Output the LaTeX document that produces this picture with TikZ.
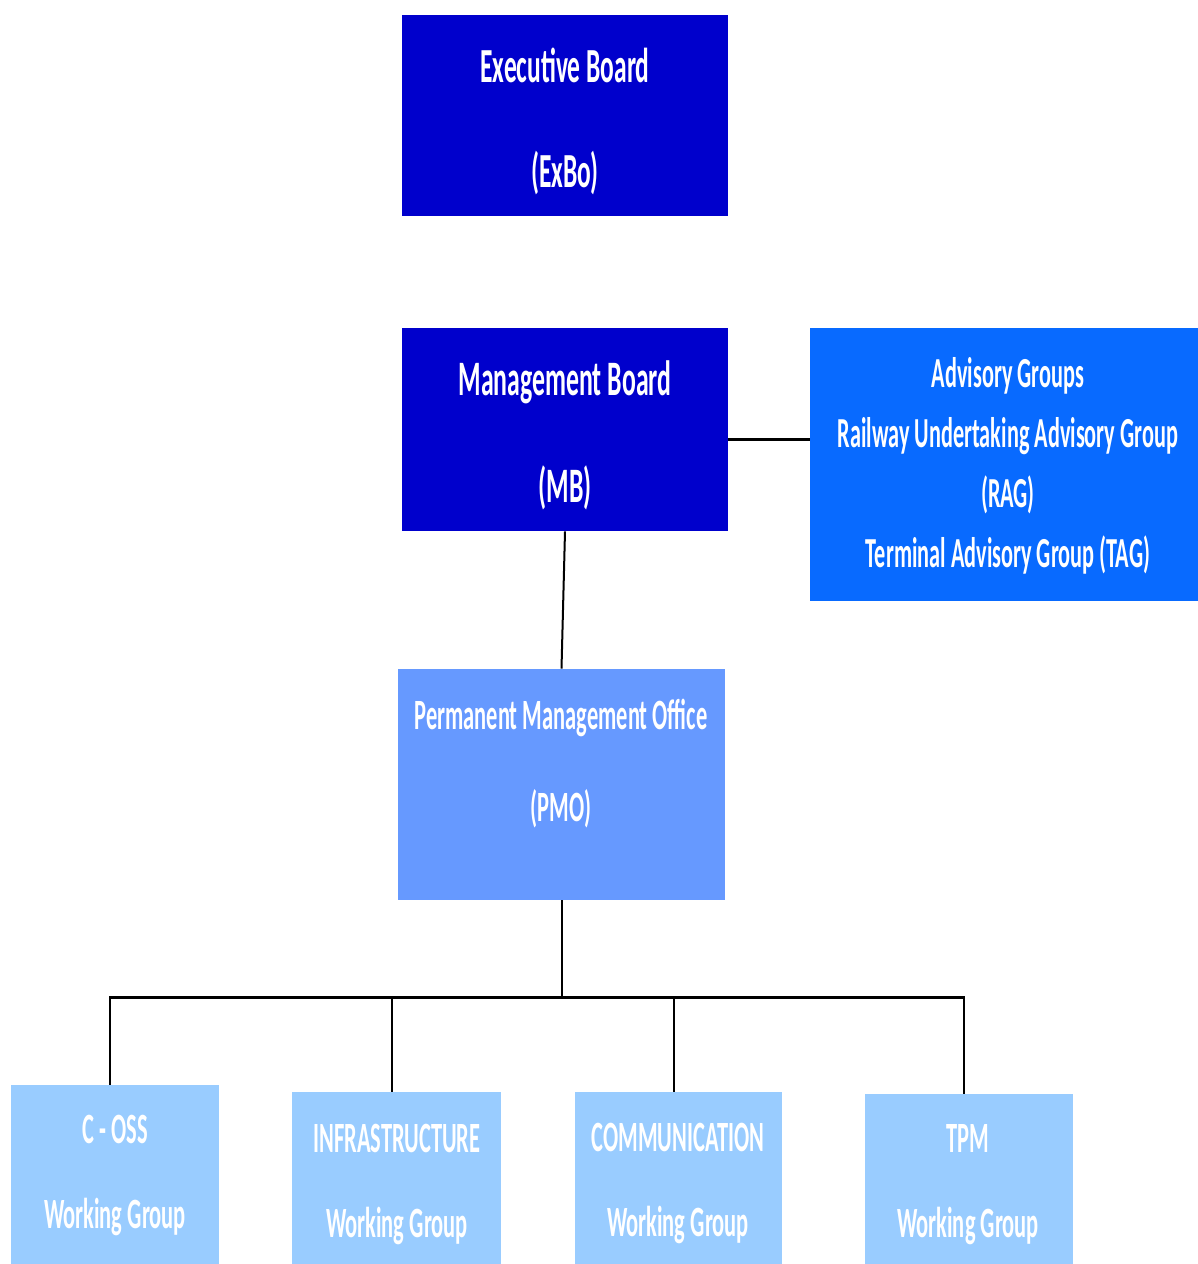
\documentclass[tikz,border=0pt]{standalone}
\usepackage{fontspec}
\newfontfamily\lab{Carlito}[FakeStretch=0.52]
\definecolor{dark}{RGB}{0,0,204}
\definecolor{mid}{RGB}{8,106,255}
\definecolor{pmoc}{RGB}{102,153,255}
\definecolor{light}{RGB}{153,204,255}
\tikzset{
  box/.style={fill=#1, draw=none, inner sep=0pt, rectangle},
  lbl/.style={text=white, align=center, inner sep=0pt},
  conn/.style={draw=black, line width=1pt},
  busline/.style={draw=black, line width=1.5pt}
}
\newcommand{\fs}[2]{\lab\bfseries\fontsize{#1}{#2}\selectfont}
\begin{document}
\begin{tikzpicture}[x=0.5pt,y=-0.5pt]
\useasboundingbox (0,0) rectangle (1198,1264);
% boxes
\node[box=dark, minimum width=163pt, minimum height=100.5pt] (exbo) at (565,115.5) {};
\node[box=dark, minimum width=163pt, minimum height=101.5pt] (mb) at (565,429.5) {};
\node[box=mid, minimum width=194pt, minimum height=136.5pt] (adv) at (1004,464.5) {};
\node[box=pmoc, minimum width=163.5pt, minimum height=115.5pt] (pmo) at (561.5,784.5) {};
\node[box=light, minimum width=104pt, minimum height=89.5pt] (coss) at (115,1174.5) {};
\node[box=light, minimum width=104.5pt, minimum height=86pt] (infra) at (396.5,1178) {};
\node[box=light, minimum width=103.5pt, minimum height=86pt] (comm) at (678.5,1178) {};
\node[box=light, minimum width=104pt, minimum height=85pt] (tpm) at (969,1179) {};
% texts
\node[lbl, font=\fs{24.5}{52.5}] (exbo-t) at (565,121) {Executive Board\\(ExBo)};
\node[lbl, font=\fs{24.8}{53.5}] (mb-t) at (565,435) {Management Board\\(MB)};
\node[lbl, font=\fs{21.4}{30}] (adv-t) at (1008,466) {Advisory Groups\\Railway Undertaking Advisory Group\\(RAG)\\Terminal Advisory Group (TAG)};
\node[lbl, font=\fs{21.6}{46}] (pmo-t) at (561,764) {Permanent Management Office\\(PMO)};
\node[lbl, font=\fs{21.6}{42.5}] (coss-t) at (115,1175) {C - OSS\\Working Group};
\node[lbl, font=\fs{21.6}{42.5}] (infra-t) at (397,1184) {INFRASTRUCTURE\\Working Group};
\node[lbl, font=\fs{21.6}{42.5}] (comm-t) at (678,1183) {COMMUNICATION\\Working Group};
\node[lbl, font=\fs{21.6}{42.5}] (tpm-t) at (968,1185) {TPM\\Working Group};
% connectors
\draw[busline] ([yshift=-5pt]mb.east) -- ([yshift=-5pt]mb.east -| adv.west);
\draw[conn] (mb.south) -- (pmo.north);
\coordinate (bus) at (561.5,997);
\draw[conn] (pmo.south) -- (bus);
\draw[busline] ([xshift=-2.5pt]coss.north |- bus) -- ([xshift=-2.5pt]tpm.north |- bus);
\draw[conn] (bus) -| ([xshift=-2.5pt]coss.north);
\draw[conn] (bus) -| ([xshift=-2.5pt]infra.north);
\draw[conn] (bus) -| ([xshift=-2.5pt]comm.north);
\draw[conn] (bus) -| ([xshift=-2.5pt]tpm.north);
\end{tikzpicture}
\end{document}
